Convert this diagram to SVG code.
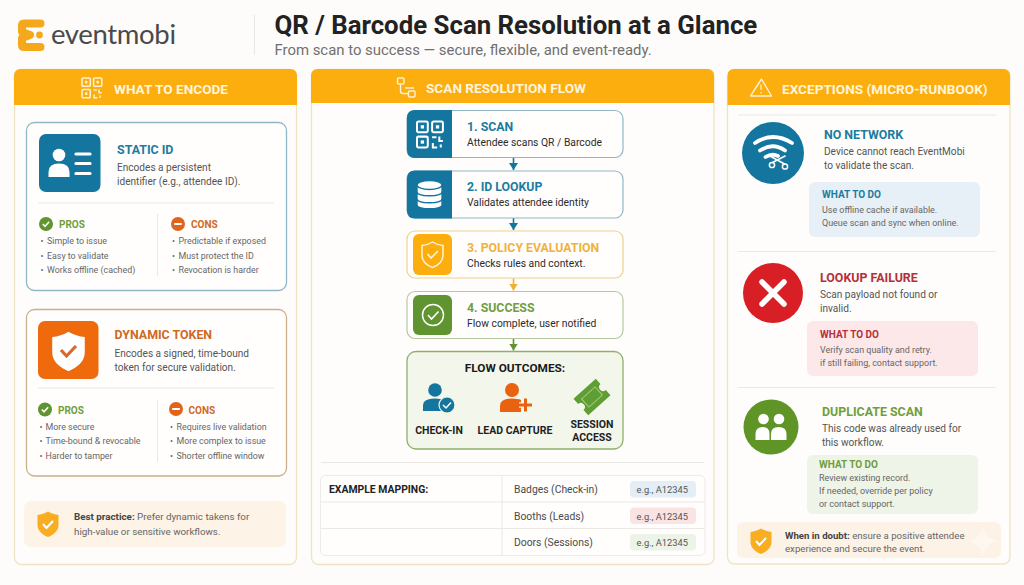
<svg xmlns="http://www.w3.org/2000/svg" width="1024" height="585" viewBox="0 0 1024 585">
<style>
text{font-family:Roboto,"Liberation Sans",sans-serif}
.panel{fill:#fefdfb;stroke:#efe3c4;stroke-width:1.3}
.hdr{fill:#fbae0e}
.ht{font-size:13.6px;font-weight:700;fill:#fff4dc}
.hi{fill:none;stroke:#fff1d2;stroke-width:1.4}
.card{fill:#fffefd;stroke-width:1.3}
.div{stroke:#e9e8e3;stroke-width:1;fill:none}
.h{font-size:12.4px;font-weight:700}
.b{font-size:10.1px;fill:#555}
.l{font-size:8.85px;fill:#666}
.pc{font-size:10px;font-weight:700}
.blue{fill:#1b7c9f}.or{fill:#cf6a24}.gr{fill:#6f9f3c}.red{fill:#b5303a}.am{fill:#efb23c}
.st{fill:#fffefd;stroke-width:1.2}
.sh{font-size:12.3px;font-weight:700}
.sb{font-size:10.35px;fill:#2b2b2b}
.ol{font-size:10.5px;font-weight:700;fill:#1f1f1f;text-anchor:middle}
.w{font-size:10px;font-weight:700}
.d{font-size:8.95px;fill:#666}
.c{font-size:9.8px;fill:#666}
.c2{font-size:9.65px;fill:#666}
.cb{font-weight:700;fill:#444}
.t{font-size:10.35px;fill:#4a4a4a}
.p{font-size:9.3px;fill:#555}
.wl{fill:none;stroke:#fff;stroke-linecap:round}
.conn{fill:none;stroke-width:1.6}
</style>
<defs>
<g id="pro"><circle r="7" fill="#5f9430"/><path d="M-3.2 0 L-1 2.4 L3.2 -2.2" fill="none" stroke="#fff" stroke-width="1.6"/></g>
<g id="con"><circle r="7" fill="#e0641c"/><rect x="-3.8" y="-1" width="7.6" height="2" fill="#fff"/></g>
<path id="shield" d="M0 -12.5 C3 -10.5 7 -9.5 10.500 -9 V1 C10.500 7 5 11 0 13 C-5 11 -10.500 7 -10.500 1 V-9 C-7 -9.5 -3 -10.500 0 -12.5Z"/>
<g id="qr" fill="none" stroke-width="1.4">
<rect x="0" y="0" width="7.5" height="7.5" rx="1"/><rect x="10.5" y="0" width="7.5" height="7.5" rx="1"/><rect x="0" y="10.5" width="7.5" height="7.5" rx="1"/>
<rect x="2.6" y="2.6" width="2.3" height="2.3" fill="currentColor" stroke="none"/><rect x="13.1" y="2.6" width="2.3" height="2.3" fill="currentColor" stroke="none"/><rect x="2.6" y="13.1" width="2.3" height="2.3" fill="currentColor" stroke="none"/>
<path d="M10.5 11 H13.5 M15.5 10.5 V13.5 H18 M11 15 V18 H14 M16.5 16 V18"/>
</g>
<marker id="ab" viewBox="0 0 7 9" refX="7" refY="4.5" markerWidth="7" markerHeight="9" markerUnits="userSpaceOnUse" orient="auto"><path d="M0 0L7 4.5L0 9Z" fill="context-stroke"/></marker>
</defs>
<rect width="1024" height="585" fill="#fdfcfa"/>

<g id="logo">
<path d="M40.500 23.500 H24 Q22 23.500 22 25.500 V32 L30 35 L22 38 V45 Q22 47 24 47 H40.500" fill="none" stroke="#f6a81c" stroke-width="8" stroke-linecap="round" stroke-linejoin="round"/>
<circle cx="39.500" cy="35" r="3.400" fill="#f6a81c"/>
<text x="51" y="44" font-size="27.500" style="font-family:Lato,sans-serif" fill="#4a4a4a" textLength="125">eventmobi</text>
</g>
<g id="title">
<line x1="254.500" y1="15" x2="254.500" y2="55" class="div"/>
<text x="274.500" y="33.500" font-size="25.800" font-weight="700" fill="#222">QR / Barcode Scan Resolution at a Glance</text>
<text x="274.500" y="54.500" font-size="14.900" fill="#707070">From scan to success — secure, flexible, and event-ready.</text>
</g>

<g id="panel-encode">
<rect class="panel" x="14.500" y="69.500" width="282" height="495" rx="7"/>
<path class="hdr" d="M14 105 V76 Q14 69 21 69 H290 Q297 69 297 76 V105Z"/>
<use href="#qr" transform="translate(82 78) scale(1.1)" stroke="#fff1d2" color="#fff1d2"/>
<text class="ht" x="114" y="94">WHAT TO ENCODE</text>
</g>
<g id="node-static-id">
<rect class="card" x="26.500" y="122.500" width="260" height="168" rx="8" stroke="#8fb7c6"/>
<rect x="39" y="134" width="61.500" height="58" rx="7" fill="#14769f"/>
<circle cx="59" cy="155" r="6.300" fill="#fff"/><path d="M48.500 177 V172 Q48.500 163.500 59 163.500 Q69.500 163.500 69.500 172 V177Z" fill="#fff"/>
<path d="M76 154 H90 M76 163.500 H90 M76 173.500 H90" stroke="#fff" stroke-width="3.200" stroke-linecap="round"/>
<text class="h blue" x="117" y="154">STATIC ID</text>
<text class="b" x="117" y="171">Encodes a persistent</text>
<text class="b" x="117" y="185">identifier (e.g., attendee ID).</text>
<line class="div" x1="38" y1="203" x2="274" y2="203"/><line class="div" x1="157.500" y1="214" x2="157.500" y2="276"/>
<use href="#pro" x="46" y="224"/><text class="pc gr" x="59" y="228">PROS</text>
<text class="l" x="40.500" y="244">•</text><text class="l" x="47" y="244">Simple to issue</text>
<text class="l" x="40.500" y="259">•</text><text class="l" x="47" y="259">Easy to validate</text>
<text class="l" x="40.500" y="273">•</text><text class="l" x="47" y="273">Works offline (cached)</text>
<use href="#con" x="178" y="224"/><text class="pc or" x="191" y="228">CONS</text>
<text class="l" x="172" y="244">•</text><text class="l" x="178.500" y="244">Predictable if exposed</text>
<text class="l" x="172" y="259">•</text><text class="l" x="178.500" y="259">Must protect the ID</text>
<text class="l" x="172" y="273">•</text><text class="l" x="178.500" y="273">Revocation is harder</text>
</g>
<g id="node-dynamic-token">
<rect class="card" x="26.500" y="309.500" width="260" height="166.500" rx="8" stroke="#c9b08a"/>
<rect x="38" y="321" width="60.500" height="58" rx="7" fill="#ee6a0c"/>
<use href="#shield" transform="translate(68.500 351) scale(1.55)" fill="#fff"/>
<path d="M61 350 L66.500 356 L76 346" fill="none" stroke="#d9682a" stroke-width="3.200"/>
<text class="h or" x="114.500" y="339">DYNAMIC TOKEN</text>
<text class="b" x="114.500" y="357">Encodes a signed, time-bound</text>
<text class="b" x="114.500" y="371">token for secure validation.</text>
<line class="div" x1="38" y1="388" x2="274" y2="388"/><line class="div" x1="157.500" y1="400" x2="157.500" y2="462"/>
<use href="#pro" x="45" y="409.500"/><text class="pc gr" x="58" y="413.500">PROS</text>
<text class="l" x="39.500" y="430">•</text><text class="l" x="45.500" y="430">More secure</text>
<text class="l" x="39.500" y="444">•</text><text class="l" x="45.500" y="444">Time-bound &amp; revocable</text>
<text class="l" x="39.500" y="459">•</text><text class="l" x="45.500" y="459">Harder to tamper</text>
<use href="#con" x="176" y="409"/><text class="pc or" x="188.500" y="413.500">CONS</text>
<text class="l" x="170" y="430">•</text><text class="l" x="176.500" y="430">Requires live validation</text>
<text class="l" x="170" y="444">•</text><text class="l" x="176.500" y="444">More complex to issue</text>
<text class="l" x="170" y="459">•</text><text class="l" x="176.500" y="459">Shorter offline window</text>
</g>
<g id="node-best-practice">
<rect x="24" y="501" width="262" height="46" rx="7" fill="#fdf3e7"/>
<use href="#shield" transform="translate(48 524)" fill="#f8ae20"/>
<path d="M43 524 L46.500 528 L53 521" fill="none" stroke="#fff" stroke-width="2"/>
<text class="c" x="74" y="520"><tspan class="cb">Best practice:</tspan> Prefer dynamic takens for</text>
<text class="c" x="74" y="535">high-value or sensitive workflows.</text>
</g>

<g id="panel-flow">
<rect class="panel" x="311.500" y="69.500" width="402.500" height="495" rx="7"/>
<path class="hdr" d="M311 103 V76 Q311 69 318 69 H707 Q714 69 714 76 V103Z"/>
<g class="hi"><rect x="397.500" y="78" width="6.500" height="6" rx="1"/><rect x="408.500" y="91" width="6.500" height="6" rx="1"/><path d="M400.500 84 V91 Q400.500 93.500 403 93.500 H408.500 M405 88 H414"/></g>
<text class="ht" x="426" y="93">SCAN RESOLUTION FLOW</text>
</g>
<g id="connectors">
<path class="conn" stroke="#14769f" d="M513.500 158 V170" marker-end="url(#ab)"/>
<path class="conn" stroke="#14769f" d="M513.500 218 V230" marker-end="url(#ab)"/>
<path class="conn" stroke="#f2ae2e" d="M513.500 278.500 V290.500" marker-end="url(#ab)"/>
<path class="conn" stroke="#5f9430" d="M513.500 338.500 V350.500" marker-end="url(#ab)"/>
</g>
<g id="node-scan">
<rect class="st" x="407" y="110.500" width="216" height="47" rx="8" stroke="#8fb7c6"/>
<path d="M452 110 H415 Q407 110 407 118 V150 Q407 158 415 158 H452Z" fill="#14769f"/>
<use href="#qr" transform="translate(417 121.500) scale(1.44)" stroke="#fff" color="#fff"/>
<text class="sh blue" x="467" y="131">1. SCAN</text><text class="sb" x="467" y="146">Attendee scans QR / Barcode</text>
</g>
<g id="node-lookup">
<rect class="st" x="407" y="171" width="216" height="47" rx="8" stroke="#8fb7c6"/>
<path d="M452 170.500 H415 Q407 170.500 407 178.500 V210.500 Q407 218.500 415 218.500 H452Z" fill="#14769f"/>
<g fill="#fff" stroke="#14769f" stroke-width="1.400"><path d="M417 200 V205 C417 210 442 210 442 205 V200Z"/><path d="M417 192 V199 C417 204 442 204 442 199 V192Z"/><path d="M417 185 V192 C417 197 442 197 442 192 V185Z"/><ellipse cx="429.500" cy="185" rx="12.500" ry="4.500"/></g>
<text class="sh blue" x="467" y="191">2. ID LOOKUP</text><text class="sb" x="467" y="206">Validates attendee identity</text>
</g>
<g id="node-policy">
<rect class="st" x="407" y="231" width="216" height="47" rx="8" stroke="#ecd28f"/>
<rect x="413" y="234" width="39" height="41" rx="6" fill="#fbae0e"/>
<use href="#shield" transform="translate(432.500 254.500)" fill="none" stroke="#fff2d4" stroke-width="1.500"/>
<path d="M427.500 254 L431 258 L438 251" fill="none" stroke="#fff2d4" stroke-width="1.600"/>
<text class="sh am" x="467" y="252">3. POLICY EVALUATION</text><text class="sb" x="467" y="267">Checks rules and context.</text>
</g>
<g id="node-success">
<rect class="st" x="407" y="291.500" width="216" height="47" rx="8" stroke="#b4c9a0"/>
<rect x="413" y="295" width="39" height="40" rx="6" fill="#5f9430"/>
<circle cx="433" cy="315" r="10.500" fill="none" stroke="#fff" stroke-width="1.500"/>
<path d="M428 315 L431.500 319 L438.500 311.500" fill="none" stroke="#fff" stroke-width="1.600"/>
<text class="sh gr" x="467" y="312">4. SUCCESS</text><text class="sb" x="467" y="327">Flow complete, user notified</text>
</g>
<g id="node-outcomes">
<rect x="407" y="351.500" width="216" height="97.500" rx="9" fill="#f3f6ea" stroke="#8fb06c" stroke-width="1.300"/>
<text x="515" y="372" font-size="11.800" font-weight="700" fill="#1a1a1a" text-anchor="middle">FLOW OUTCOMES:</text>
<circle cx="435" cy="390" r="6.800" fill="#14769f"/><path d="M423 411 V405 Q423 398.500 435 398.500 Q441 398.500 444 400 V411Z" fill="#14769f"/>
<circle cx="447" cy="405" r="8" fill="#14769f" stroke="#f3f6ea" stroke-width="1.200"/><path d="M443 405 L446 408 L451 402.500" fill="none" stroke="#fff" stroke-width="1.500"/>
<circle cx="512" cy="390" r="7" fill="#e8620f"/><path d="M500 412 V406 Q500 398.500 512 398.500 Q518 398.500 521 400 V412Z" fill="#e8620f"/>
<path d="M519 405 H532 M525.500 398.500 V411.500" stroke="#f3f6ea" stroke-width="5.500" fill="none"/>
<path d="M519 405 H532 M525.500 398.500 V411.500" stroke="#e8620f" stroke-width="3" fill="none"/>
<g transform="rotate(-42 592 397)"><path d="M577 386 H607 V393 A4 4 0 0 0 607 401 V408 H577 V401 A4 4 0 0 0 577 393Z" fill="#5f9e32"/><rect x="583" y="391.500" width="18" height="11" fill="none" stroke="#a7cb7d" stroke-width="1"/></g>
<text class="ol" x="439" y="434">CHECK-IN</text><text class="ol" x="515" y="434">LEAD CAPTURE</text>
<text class="ol" x="592" y="428">SESSION</text><text class="ol" x="592" y="441">ACCESS</text>
</g>
<g id="mapping">
<line class="div" x1="321" y1="462.500" x2="704" y2="462.500"/>
<rect x="320.500" y="475.500" width="384.500" height="80" rx="5" fill="#fffefd" stroke="#ecebe6"/>
<path class="div" d="M321 502 H705 M321 528.500 H705 M502 476 V555"/>
<text x="329" y="493" font-size="10.400" font-weight="700" fill="#222">EXAMPLE MAPPING:</text>
<text class="t" x="514" y="493">Badges (Check-in)</text><text class="t" x="514" y="519.500">Booths (Leads)</text><text class="t" x="514" y="546">Doors (Sessions)</text>
<rect x="630" y="481" width="66" height="16.500" rx="4" fill="#e3eef7"/><rect x="630" y="507.500" width="66" height="16.500" rx="4" fill="#fae3e3"/><rect x="630" y="534" width="66" height="16.500" rx="4" fill="#eef3e8"/>
<text class="p" x="636.500" y="493">e.g., A12345</text><text class="p" x="636.500" y="519.500">e.g., A12345</text><text class="p" x="636.500" y="546">e.g., A12345</text>
</g>

<g id="panel-exceptions">
<rect class="panel" x="727.500" y="69.500" width="282.500" height="494.500" rx="7"/>
<path class="hdr" d="M727.500 105 V76 Q727.500 69 734.500 69 H1003 Q1010 69 1010 76 V105Z"/>
<path d="M761.500 79 L750.500 96 H771.500Z" fill="none" stroke="#fff1d2" stroke-width="1.400" stroke-linejoin="round"/><path d="M761 84.500 V90 M761 92 V93.500" stroke="#fff1d2" stroke-width="1.300"/>
<text class="ht" x="782" y="94">EXCEPTIONS (MICRO-RUNBOOK)</text>
<path class="div" d="M738 115 H996"/>
</g>
<g id="node-no-network">
<circle cx="773" cy="153" r="31" fill="#14769f"/>
<path class="wl" stroke-width="3.800" d="M755 143 Q773 131 792 143 M760 150.500 Q773 142 785 150.500 M765.500 157 Q772 153 778 156"/>
<circle cx="772" cy="165" r="2.600" fill="none" stroke="#fff" stroke-width="1.500"/><circle cx="785" cy="166.500" r="2.600" fill="none" stroke="#fff" stroke-width="1.500"/>
<path class="wl" stroke-width="1.600" d="M772.500 162.500 L785 156 M784.500 164 L770 156"/>
<text class="h blue" x="824" y="139">NO NETWORK</text>
<text class="b" x="824" y="155">Device cannot reach EventMobi</text><text class="b" x="824" y="169">to validate the scan.</text>
<rect x="809" y="182" width="171" height="55" rx="6" fill="#e8f0f7"/>
<text class="w blue" x="822" y="198">WHAT TO DO</text>
<text class="d" x="822" y="213">Use offline cache if available.</text><text class="d" x="822" y="226">Queue scan and sync when online.</text>
<path class="div" d="M738 251.500 H996"/>
</g>
<g id="node-lookup-failure">
<circle cx="773" cy="293" r="30" fill="#d81f26"/>
<path d="M762 282 L784 304 M784 282 L762 304" stroke="#fff" stroke-width="5.500" stroke-linecap="round"/>
<text class="h red" x="820" y="282">LOOKUP FAILURE</text>
<text class="b" x="820" y="298">Scan payload not found or</text><text class="b" x="820" y="312">invalid.</text>
<rect x="807" y="321" width="171" height="55" rx="6" fill="#fce8e8"/>
<text class="w red" x="820" y="338">WHAT TO DO</text>
<text class="d" x="820" y="353">Verify scan quality and retry.</text><text class="d" x="820" y="366">if still failing, contact support.</text>
<path class="div" d="M738 387.500 H996"/>
</g>
<g id="node-duplicate">
<circle cx="771" cy="427" r="27.500" fill="#5f9426"/>
<circle cx="763.500" cy="419" r="5.300" fill="#fff"/><circle cx="779" cy="419" r="5.300" fill="#fff"/>
<path d="M755.500 440 V434 Q755.500 427 763 427 Q769.500 427 769.500 434 V440Z M771 440 V434 Q771 427 778.500 427 Q786.500 427 786.500 434 V440Z" fill="#fff"/>
<text class="h gr" x="822" y="416">DUPLICATE SCAN</text>
<text class="b" x="822" y="432">This code was already used for</text><text class="b" x="822" y="446">this workflow.</text>
<rect x="807" y="455" width="171" height="59" rx="6" fill="#eef4e8"/>
<text class="w gr" x="819" y="468">WHAT TO DO</text>
<text class="d" x="819" y="481">Review existing record.</text><text class="d" x="819" y="494">If needed, override per policy</text><text class="d" x="819" y="507">or contact support.</text>
</g>
<g id="node-when-in-doubt">
<rect x="737" y="522" width="264" height="36" rx="6" fill="#fdf2e6"/>
<use href="#shield" transform="translate(761 541)" fill="#f8ae20"/>
<path d="M756 541 L759.500 545 L766 538" fill="none" stroke="#fff" stroke-width="2"/>
<path d="M983 526 Q985 538 998 541 Q985 544 983 556 Q981 544 968 541 Q981 538 983 526Z" fill="#fff" opacity=".4"/>
<text class="c2" x="785" y="539"><tspan class="cb">When in doubt:</tspan> ensure a positive attendee</text>
<text class="c2" x="785" y="552">experience and secure the event.</text>
</g>
</svg>
